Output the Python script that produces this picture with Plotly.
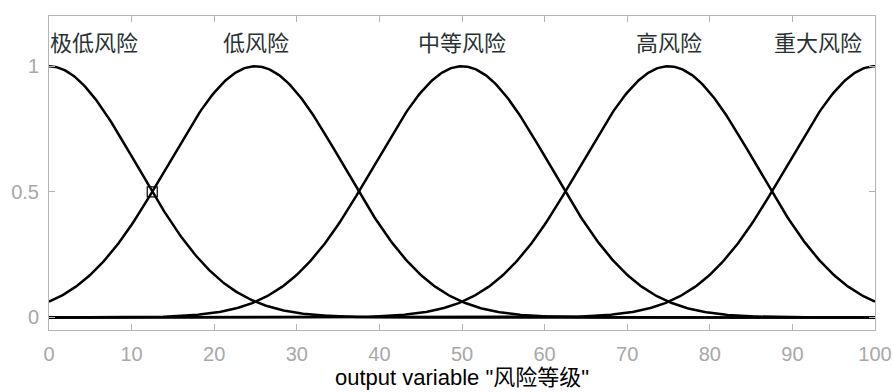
import numpy as np
import plotly.graph_objects as go

# Membership function parameters (Gaussian MFs)
mf_names = ["极低风险", "低风险", "中等风险", "高风险", "重大风险"]
mf_centers = [0, 25, 50, 75, 100]
mf_sigma = [10.62, 10.62, 10.62, 10.62, 10.62]
x_ticks = [0, 10, 20, 30, 40, 50, 60, 70, 80, 90, 100]
y_ticks = [0, 0.5, 1]
marker_pt_x = [12.5]
marker_pt_y = [0.5]

x = np.linspace(0, 100, 501)

fig = go.Figure()
for c, s in zip(mf_centers, mf_sigma):
    fig.add_trace(go.Scatter(x=x, y=np.exp(-((x - c) ** 2) / (2 * s ** 2)),
                             mode="lines", line=dict(color="black", width=2.5),
                             showlegend=False, hoverinfo="skip"))

fig.add_trace(go.Scatter(x=marker_pt_x, y=marker_pt_y, mode="markers",
                         marker=dict(symbol="square-open", size=10,
                                     color="black", line=dict(width=1.2)),
                         showlegend=False))

for i, (name, c) in enumerate(zip(mf_names, mf_centers)):
    if i == 0:
        anchor, xs = "left", -1
    elif i == len(mf_names) - 1:
        anchor, xs = "right", -11
    else:
        anchor, xs = "center", 0
    fig.add_annotation(x=c, y=1.1, xref="x", yref="y", text=name,
                       showarrow=False, xanchor=anchor, yanchor="middle",
                       xshift=xs, yshift=0,
                       font=dict(family="Noto Sans CJK SC", size=22, color="#283232"))

axis_common = dict(showline=True, linecolor="#b4b4b4", linewidth=1, mirror="ticks",
                   ticks="inside", ticklen=6, tickcolor="#b4b4b4",
                   showgrid=False, zeroline=False, automargin=False,
                   tickfont=dict(family="Liberation Sans", size=20, color="#a8a8a8"))

fig.update_xaxes(range=[0, 100], tickvals=x_ticks, ticklabelstandoff=6, **axis_common,
                 title=dict(text='output variable "风险等级"', standoff=5,
                            font=dict(family="Liberation Sans, Noto Sans CJK SC",
                                      size=22, color="black")))
fig.update_yaxes(range=[-0.05, 1.2], tickvals=y_ticks, ticktext=["0", "0.5", "1"],
                 ticklabelstandoff=5, **axis_common)

fig.update_layout(width=894, height=392,
                  margin=dict(l=49, r=19, t=16, b=62),
                  plot_bgcolor="white", paper_bgcolor="white")

fig.write_html("out.html")
